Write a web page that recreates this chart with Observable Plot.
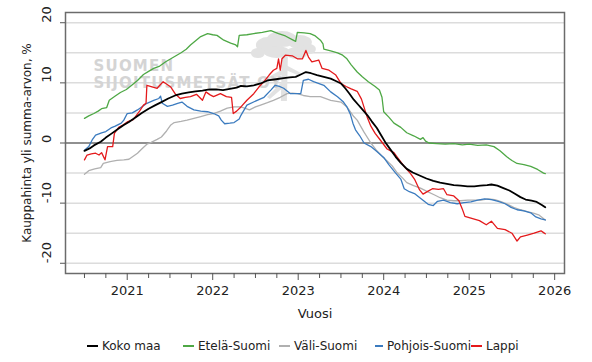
<!DOCTYPE html>
<html>
<head>
<meta charset="utf-8">
<script src="https://cdn.jsdelivr.net/npm/d3@7"></script>
<script src="https://cdn.jsdelivr.net/npm/@observablehq/plot@0.6"></script>
<style>
  body { margin: 0; background: #fff; }
  #legend { display: grid; grid-template-columns: repeat(5, 96px); margin-left: 87px; height: 32px; align-items: center; font: 12px "DejaVu Sans", sans-serif; color: #222; }
  #legend .item { display: flex; align-items: center; white-space: nowrap; }
  #legend .sw { width: 11px; height: 2px; margin-right: 4px; }
</style>
</head>
<body>
<div id="chart"></div>
<div id="legend"></div>
<script>
const seriesNames = ["Koko maa", "Etelä-Suomi", "Väli-Suomi", "Pohjois-Suomi", "Lappi"];
const seriesColors = ["#000000", "#4ea845", "#b0b0b0", "#3b7bbf", "#e41a1c"];
const xTickYears = [2021, 2022, 2023, 2024, 2025, 2026];
const xMinorTicks = [2020.5, 2020.75, 2021.25, 2021.5, 2021.75, 2022.25, 2022.5, 2022.75, 2023.25, 2023.5, 2023.75, 2024.25, 2024.5, 2024.75, 2025.25, 2025.5, 2025.75];
const yTickValues = [-20, -10, 0, 10, 20];
const yGridValues = [-20, -15, -10, -5, 5, 10, 15, 20];
const xLabel = "Vuosi";
const yLabel = "Kauppahinta yli summa-arvon, %";
const watermark = ["SUOMEN", "SIJOITUSMETSÄT OY"];

const kokoMaa = [
  [2020.50,-1.3],[2020.56,-0.9],[2020.61,-0.4],[2020.69,0.2],[2020.75,0.9],[2020.82,1.6],[2020.90,2.4],[2020.96,3.0],
  [2021.02,3.5],[2021.10,4.3],[2021.17,5.0],[2021.25,5.7],[2021.33,6.3],[2021.40,6.8],[2021.48,7.4],[2021.56,7.9],
  [2021.64,8.2],[2021.72,8.4],[2021.80,8.6],[2021.88,8.7],[2021.96,8.9],[2022.04,8.9],[2022.12,8.8],[2022.20,9.0],
  [2022.28,9.2],[2022.33,9.5],[2022.40,9.4],[2022.48,9.6],[2022.56,9.9],[2022.64,10.4],[2022.74,10.6],[2022.83,10.8],
  [2022.90,10.9],[2022.97,11.0],[2023.03,11.4],[2023.09,11.8],[2023.15,11.6],[2023.22,11.3],[2023.30,11.0],[2023.38,10.7],
  [2023.44,10.3],[2023.50,9.9],[2023.55,9.1],[2023.60,8.2],[2023.65,7.2],[2023.70,6.4],[2023.75,5.6],[2023.81,4.6],
  [2023.86,3.6],[2023.92,2.5],[2023.97,1.3],[2024.02,0.1],[2024.08,-1.1],[2024.14,-2.3],[2024.20,-3.3],[2024.27,-4.3],
  [2024.34,-4.9],[2024.42,-5.4],[2024.50,-5.9],[2024.58,-6.3],[2024.66,-6.6],[2024.74,-6.8],[2024.82,-7.0],[2024.90,-7.1],
  [2024.98,-7.2],[2025.06,-7.2],[2025.13,-7.1],[2025.21,-7.0],[2025.26,-6.9],[2025.33,-7.1],[2025.40,-7.5],[2025.47,-7.9],
  [2025.53,-8.4],[2025.60,-9.0],[2025.66,-9.4],[2025.73,-9.6],[2025.79,-9.8],[2025.85,-10.3],[2025.89,-10.7]
];
const etelaSuomi = [
  [2020.50,4.1],[2020.55,4.5],[2020.61,4.9],[2020.66,5.3],[2020.70,5.7],[2020.76,5.9],[2020.79,7.1],[2020.86,7.8],
  [2020.92,8.4],[2020.99,8.9],[2021.06,9.7],[2021.12,10.4],[2021.19,11.4],[2021.25,11.9],[2021.31,12.4],[2021.38,12.8],
  [2021.45,13.5],[2021.51,14.0],[2021.58,14.6],[2021.63,15.0],[2021.69,15.6],[2021.74,16.3],[2021.80,17.0],[2021.86,17.7],
  [2021.94,18.2],[2022.00,18.0],[2022.05,17.9],[2022.13,17.1],[2022.21,16.6],[2022.27,16.3],[2022.29,16.0],[2022.31,17.9],
  [2022.40,18.0],[2022.48,18.2],[2022.58,18.4],[2022.68,18.7],[2022.77,18.2],[2022.85,17.8],[2022.93,17.2],[2022.97,16.9],
  [2022.99,18.4],[2023.07,18.3],[2023.14,18.2],[2023.20,17.8],[2023.26,17.1],[2023.29,16.5],[2023.30,15.6],[2023.38,15.3],
  [2023.46,15.0],[2023.52,14.6],[2023.57,14.0],[2023.62,13.0],[2023.69,11.8],[2023.75,11.0],[2023.82,10.2],[2023.90,9.4],
  [2023.95,8.8],[2023.98,7.6],[2024.00,5.2],[2024.06,4.3],[2024.12,3.3],[2024.20,2.6],[2024.27,1.7],[2024.35,1.2],
  [2024.43,0.6],[2024.46,0.9],[2024.49,0.3],[2024.53,0.0],[2024.62,-0.1],[2024.72,-0.2],[2024.82,-0.1],[2024.92,-0.3],
  [2025.00,-0.2],[2025.10,-0.4],[2025.20,-0.3],[2025.29,-0.6],[2025.36,-1.3],[2025.44,-2.3],[2025.50,-2.9],[2025.56,-3.4],
  [2025.64,-3.6],[2025.72,-3.9],[2025.80,-4.4],[2025.87,-5.0],[2025.89,-5.1]
];
const valiSuomi = [
  [2020.50,-5.2],[2020.55,-4.6],[2020.62,-4.3],[2020.69,-4.1],[2020.72,-3.4],[2020.80,-3.1],[2020.88,-2.9],[2020.96,-2.8],
  [2021.02,-2.7],[2021.07,-2.2],[2021.12,-1.7],[2021.17,-1.0],[2021.23,-0.2],[2021.28,0.1],[2021.35,0.6],[2021.40,1.0],
  [2021.46,2.0],[2021.51,3.0],[2021.55,3.4],[2021.63,3.6],[2021.70,3.8],[2021.78,4.1],[2021.86,4.4],[2021.94,4.7],
  [2022.01,4.9],[2022.09,5.3],[2022.17,5.8],[2022.25,6.0],[2022.33,6.0],[2022.43,5.5],[2022.50,6.0],[2022.56,6.3],
  [2022.64,6.7],[2022.71,7.1],[2022.79,7.6],[2022.87,8.2],[2022.93,8.3],[2022.99,8.2],[2023.06,7.9],[2023.14,7.7],
  [2023.26,7.7],[2023.38,7.1],[2023.50,6.8],[2023.57,6.0],[2023.65,4.4],[2023.69,3.8],[2023.77,1.8],[2023.85,0.0],
  [2023.92,-1.3],[2023.98,-2.2],[2024.04,-3.0],[2024.10,-3.8],[2024.16,-5.0],[2024.22,-5.8],[2024.27,-6.6],[2024.35,-7.1],
  [2024.43,-7.5],[2024.50,-8.0],[2024.59,-8.6],[2024.66,-9.1],[2024.74,-9.5],[2024.82,-9.6],[2024.90,-9.6],[2024.98,-9.5],
  [2025.06,-9.5],[2025.14,-9.5],[2025.22,-9.3],[2025.30,-9.4],[2025.38,-9.8],[2025.45,-10.2],[2025.52,-10.7],[2025.60,-11.1],
  [2025.68,-11.4],[2025.76,-11.7],[2025.82,-12.0],[2025.89,-12.8]
];
const pohjoisSuomi = [
  [2020.50,-1.2],[2020.55,-0.6],[2020.59,0.5],[2020.63,1.3],[2020.70,1.7],[2020.75,1.9],[2020.81,2.5],[2020.86,2.8],
  [2020.93,3.3],[2020.96,3.8],[2021.00,4.9],[2021.06,5.0],[2021.12,5.5],[2021.19,6.2],[2021.23,6.6],[2021.31,7.1],
  [2021.37,7.4],[2021.39,7.8],[2021.41,6.6],[2021.47,6.1],[2021.53,6.3],[2021.59,6.6],[2021.64,6.8],[2021.70,6.1],
  [2021.78,5.5],[2021.86,5.3],[2021.94,5.2],[2022.01,4.9],[2022.07,4.5],[2022.10,3.8],[2022.14,3.2],[2022.20,3.3],
  [2022.25,3.4],[2022.31,4.0],[2022.33,4.6],[2022.40,6.3],[2022.52,7.1],[2022.60,7.6],[2022.68,8.8],[2022.73,9.6],
  [2022.78,9.4],[2022.83,9.1],[2022.91,8.2],[2022.97,8.2],[2023.03,8.2],[2023.06,10.4],[2023.12,10.6],[2023.18,10.2],
  [2023.30,9.6],[2023.38,8.5],[2023.46,7.7],[2023.53,6.8],[2023.57,6.0],[2023.61,4.8],[2023.64,3.3],[2023.67,2.2],
  [2023.72,1.2],[2023.77,0.0],[2023.85,-0.6],[2023.92,-1.4],[2024.00,-2.4],[2024.06,-3.6],[2024.14,-5.0],[2024.20,-6.0],
  [2024.24,-7.6],[2024.30,-8.1],[2024.36,-8.4],[2024.43,-9.2],[2024.52,-10.2],[2024.58,-10.4],[2024.63,-9.7],[2024.70,-9.5],
  [2024.78,-9.9],[2024.86,-10.1],[2024.94,-9.9],[2025.02,-9.8],[2025.10,-9.5],[2025.18,-9.3],[2025.26,-9.4],[2025.34,-9.7],
  [2025.42,-10.1],[2025.49,-10.7],[2025.56,-11.1],[2025.64,-11.3],[2025.72,-11.6],[2025.78,-12.3],[2025.84,-12.6],[2025.89,-12.8]
];
const lappi = [
  [2020.50,-2.8],[2020.53,-2.0],[2020.58,-1.8],[2020.63,-1.7],[2020.67,-2.0],[2020.70,-1.6],[2020.74,-2.8],[2020.77,-0.6],
  [2020.83,-0.6],[2020.85,1.6],[2020.90,2.6],[2020.95,3.0],[2021.00,3.5],[2021.07,3.9],[2021.14,5.2],[2021.19,6.3],
  [2021.22,6.6],[2021.23,9.6],[2021.30,9.3],[2021.35,9.1],[2021.42,10.2],[2021.48,9.6],[2021.51,9.3],[2021.56,8.2],
  [2021.62,7.4],[2021.68,7.6],[2021.74,7.7],[2021.81,8.1],[2021.88,7.1],[2021.92,8.5],[2021.97,8.0],[2022.01,7.7],
  [2022.09,8.2],[2022.16,7.7],[2022.22,7.6],[2022.24,4.9],[2022.28,5.3],[2022.33,6.0],[2022.40,7.1],[2022.48,8.2],
  [2022.54,9.3],[2022.60,10.2],[2022.66,11.3],[2022.71,12.1],[2022.75,12.4],[2022.77,14.0],[2022.79,12.1],[2022.81,14.0],
  [2022.85,14.6],[2022.93,14.5],[2022.99,14.0],[2023.05,14.0],[2023.09,15.4],[2023.12,14.3],[2023.16,13.5],[2023.24,13.8],
  [2023.28,12.4],[2023.36,12.1],[2023.44,11.3],[2023.50,9.9],[2023.56,9.4],[2023.62,9.0],[2023.69,8.6],[2023.74,7.3],
  [2023.78,5.5],[2023.81,4.2],[2023.85,2.8],[2023.90,1.6],[2023.96,0.5],[2024.04,-1.0],[2024.12,-1.6],[2024.16,-2.4],
  [2024.24,-3.9],[2024.31,-5.0],[2024.36,-6.0],[2024.42,-7.8],[2024.46,-8.5],[2024.52,-8.0],[2024.57,-7.6],[2024.64,-7.7],
  [2024.70,-7.6],[2024.74,-8.6],[2024.82,-8.8],[2024.88,-9.6],[2024.92,-11.0],[2024.95,-12.2],[2025.02,-12.5],[2025.12,-12.9],
  [2025.20,-13.6],[2025.26,-13.0],[2025.33,-14.2],[2025.42,-14.4],[2025.50,-15.0],[2025.56,-16.3],[2025.60,-15.6],[2025.68,-15.3],
  [2025.76,-15.0],[2025.84,-14.6],[2025.87,-14.9],[2025.89,-15.1]
];

const seriesData = [kokoMaa, etelaSuomi, valiSuomi, pohjoisSuomi, lappi];
const rows = seriesData.map((arr, i) => arr.map(([year, value]) => ({series: seriesNames[i], year, value})));
const font = "'DejaVu Sans', sans-serif";

const lineMarks = [1, 2, 3, 4, 0].map(i =>
  Plot.line(rows[i], {x: "year", y: "value", stroke: seriesColors[i], strokeWidth: i === 0 ? 1.8 : 1.3, curve: "linear"})
);

// faint tree logo of the watermark, placed through the scales
function treeLogo(index, scales) {
  const cx = scales.x(2022.85), cy = scales.y(15.2);
  const g = d3.create("svg:g").attr("transform", `translate(${cx},${cy})`).attr("fill", "#e2e2e2").attr("stroke", "none");
  const blobs = [[-17, -6, 12, 8], [-3, -12, 15, 8], [15, -9, 12, 7], [-8, 1, 13, 6], [12, 2, 11, 6], [24, -2, 7, 5], [-27, 2, 7, 5]];
  blobs.forEach(([x, y, rx, ry]) => g.append("ellipse").attr("cx", x).attr("cy", y).attr("rx", rx).attr("ry", ry));
  g.append("path").attr("d", "M-3,4 L3,4 L2,50 L-4,50 Z");
  g.append("path").attr("d", "M-2,18 L-24,30 L-22,33 L-1,23 Z");
  g.append("path").attr("d", "M-2,30 L-18,46 L-15,48 L-1,36 Z");
  g.append("path").attr("d", "M1,14 L16,22 L15,25 L1,19 Z");
  return g.node();
}

const chart = Plot.plot({
  width: 592,
  height: 330,
  marginLeft: 65,
  marginRight: 28,
  marginTop: 12,
  marginBottom: 57,
  x: {domain: [2020.278, 2026.115]},
  y: {domain: [-21.7, 21.7]},
  style: {fontFamily: font, fontSize: "13px", color: "#222", background: "white", overflow: "visible"},
  marks: [
    Plot.ruleY(yGridValues, {stroke: "#dcdcdc", strokeWidth: 1.5}),
    Plot.ruleY([0], {stroke: "#6b6b6b", strokeWidth: 1.5}),
    treeLogo,
    Plot.text([watermark[0]], {frameAnchor: "top-left", dx: 28, dy: 48, text: d => d, textAnchor: "start", fill: "#d4d4d4", fontSize: 15, fontWeight: "bold", className: "wm"}),
    Plot.text([watermark[1]], {frameAnchor: "top-left", dx: 28, dy: 65, text: d => d, textAnchor: "start", fill: "#d4d4d4", fontSize: 15, fontWeight: "bold", className: "wm"}),
    ...lineMarks,
    Plot.frame({stroke: "#6b6b6b", strokeWidth: 1.5}),
    Plot.axisX(xTickYears, {tickSize: 7, tickPadding: 5, tickFormat: d => String(d), label: null, stroke: "#555", fontSize: 13, fill: "#222"}),
    Plot.axisX(xMinorTicks, {tickSize: 5, tickFormat: () => "", label: null, stroke: "#555"}),
    Plot.axisY(yTickValues, {tickSize: 5, tickFormat: () => "", label: yLabel, labelAnchor: "center", labelOffset: 43, labelArrow: "none", stroke: "#555", fontSize: 12}),
    Plot.text(yTickValues, {y: d => d, text: d => String(d), frameAnchor: "left", dx: -19, rotate: -90, fontSize: 13, fill: "#222"}),
    Plot.text([xLabel], {frameAnchor: "bottom", dy: 44, text: d => d, fontSize: 13, fill: "#222"})
  ]
});
d3.select(chart).selectAll("g.wm text").style("letter-spacing", "1.2px");
document.getElementById("chart").appendChild(chart);

const legend = document.getElementById("legend");
seriesNames.forEach((name, i) => {
  const item = document.createElement("div");
  item.className = "item";
  const sw = document.createElement("span");
  sw.className = "sw";
  sw.style.background = seriesColors[i];
  const label = document.createElement("span");
  label.textContent = name;
  item.appendChild(sw);
  item.appendChild(label);
  legend.appendChild(item);
});
</script>
</body>
</html>
